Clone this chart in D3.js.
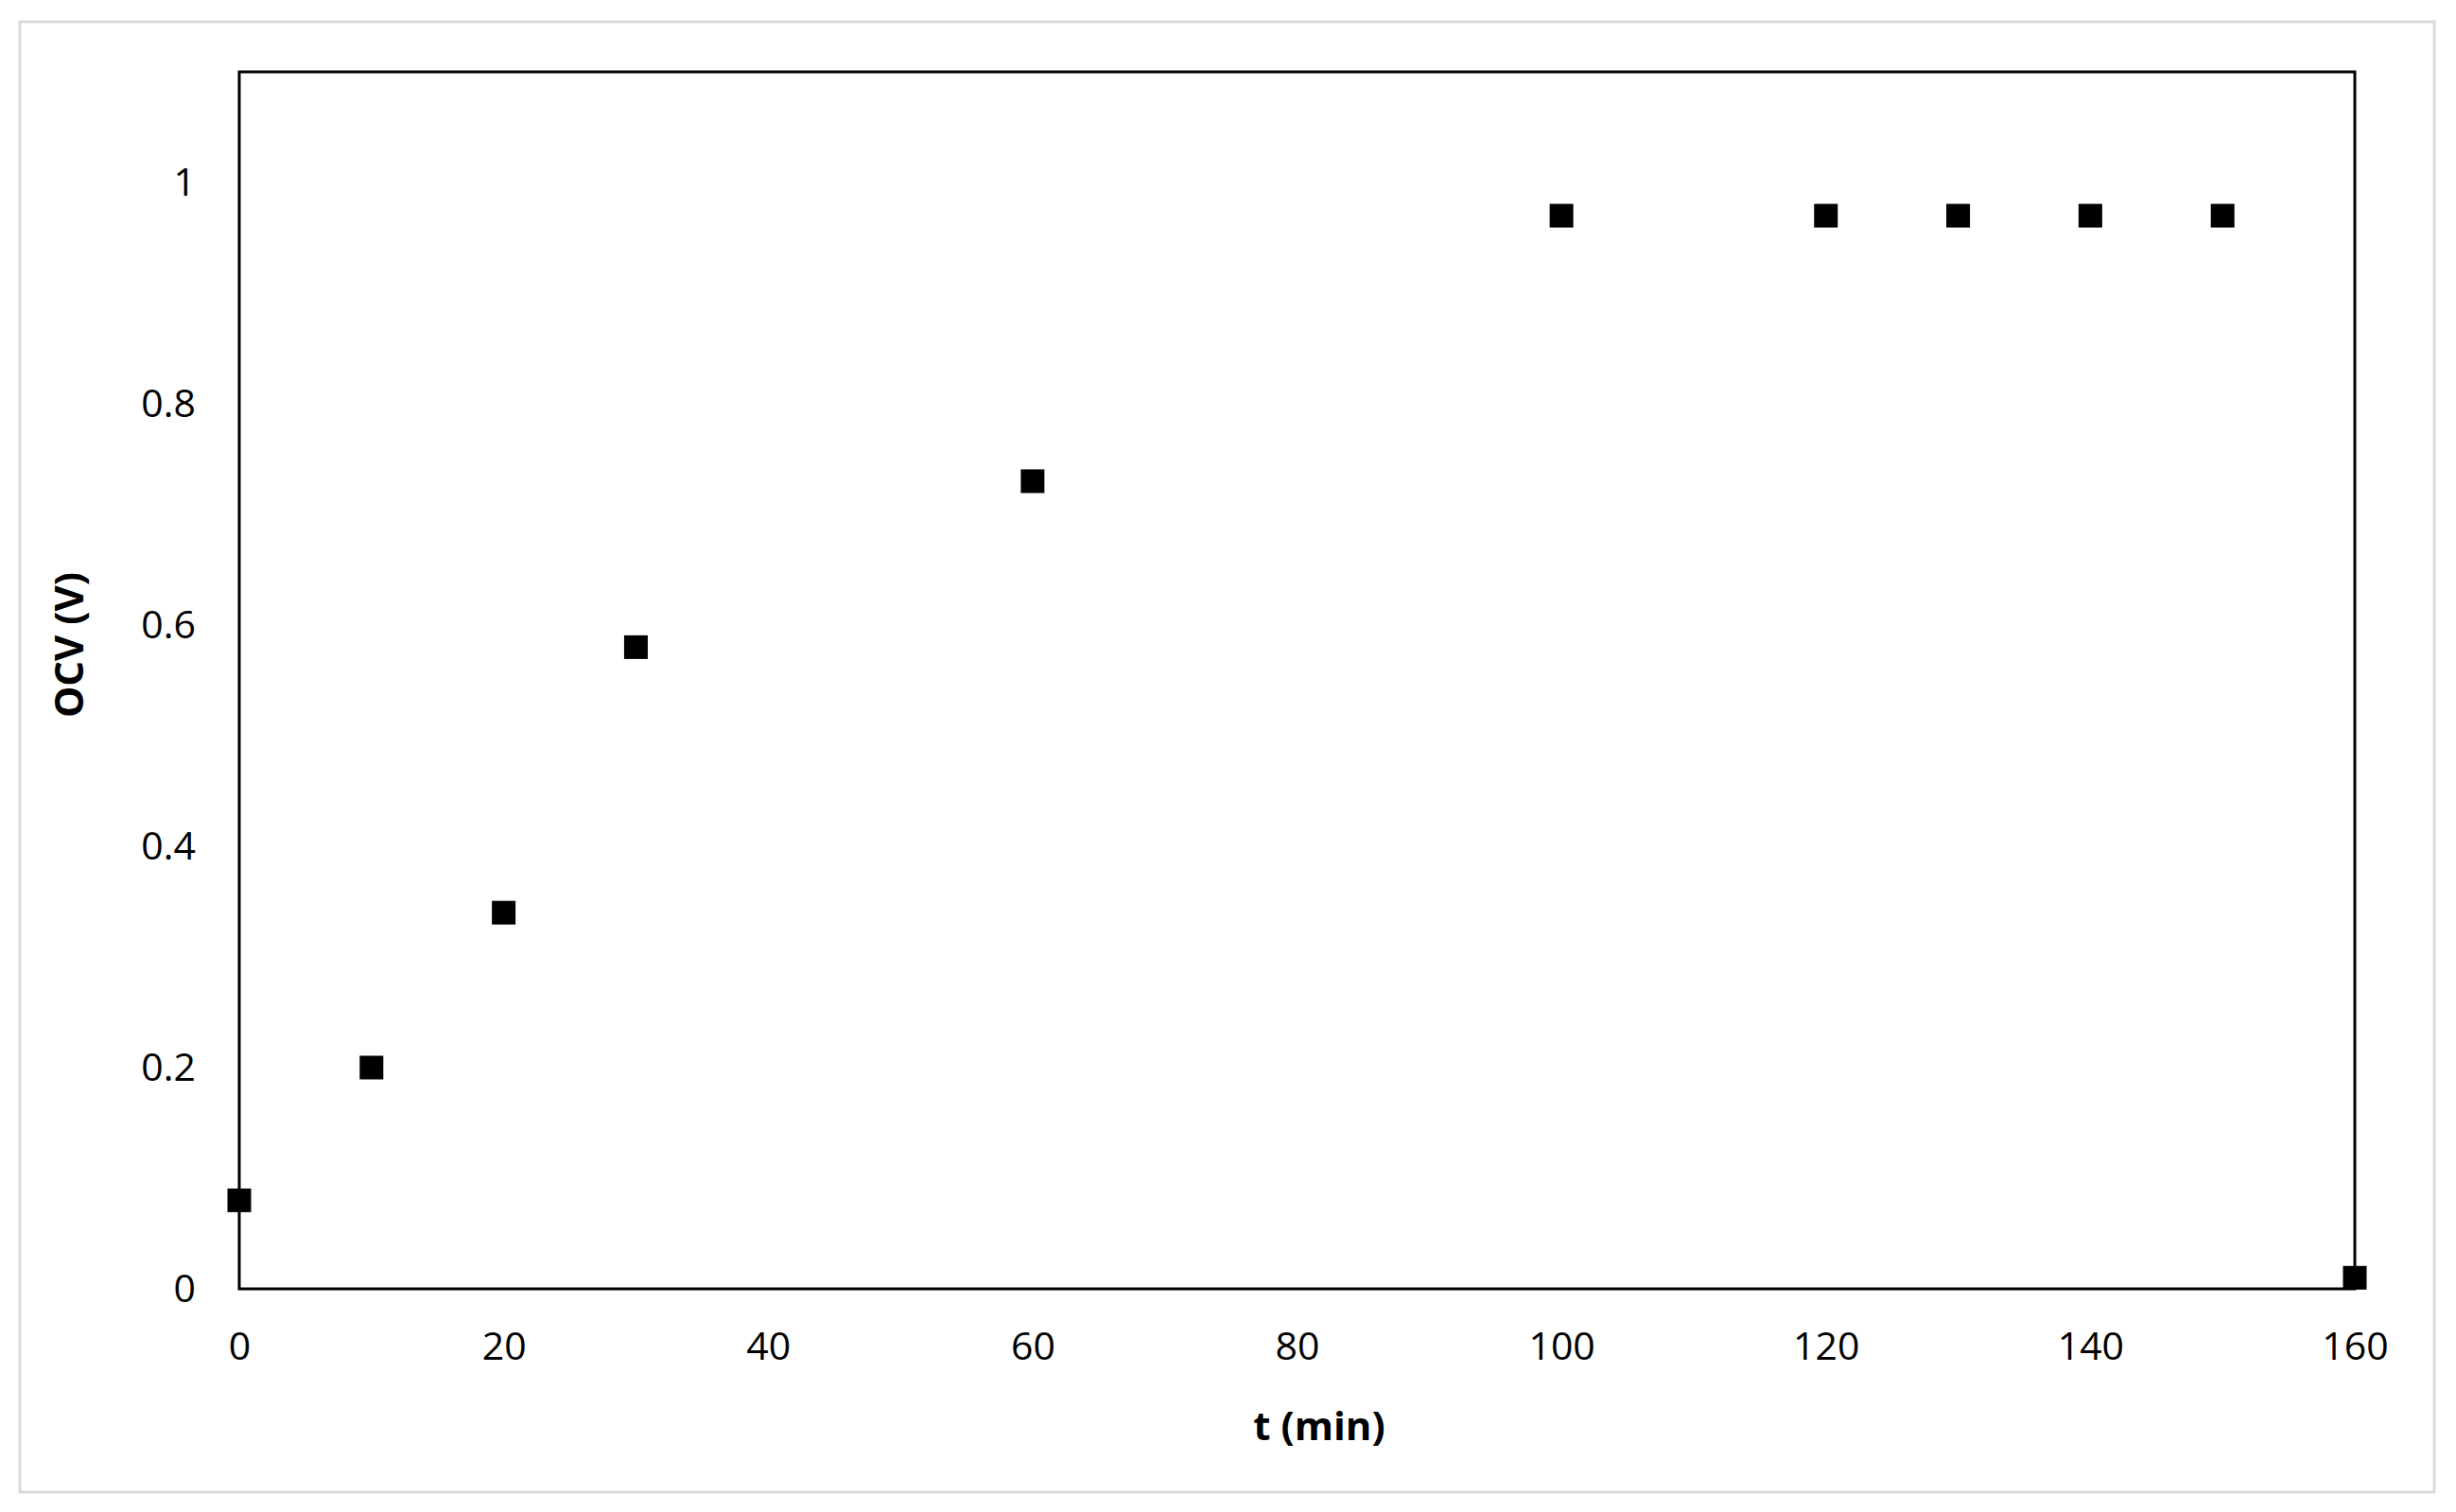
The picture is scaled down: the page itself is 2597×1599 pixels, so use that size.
<!DOCTYPE html>
<html>
<head>
<meta charset="utf-8">
<script src="https://cdn.jsdelivr.net/npm/d3@7"></script>
<style>
  html, body { margin: 0; padding: 0; background: #ffffff; }
  svg { display: block; }
</style>
</head>
<body>
<svg id="chart" width="2597" height="1599"></svg>
<script>
const times = [0, 10, 20, 30, 60, 100, 120, 130, 140, 150, 160];
const ocv = [0.08, 0.20, 0.34, 0.58, 0.73, 0.97, 0.97, 0.97, 0.97, 0.97, 0.01];
const xTicks = [0, 20, 40, 60, 80, 100, 120, 140, 160];
const yTicks = [0, 0.2, 0.4, 0.6, 0.8, 1];
const xLabel = "t (min)";
const yLabel = "OCV (V)";

const svg = d3.select("#chart");
const W = 2597, H = 1599;
const plot = { left: 253, right: 2490, top: 76, bottom: 1363 };

svg.append("rect").attr("x", 0).attr("y", 0).attr("width", W).attr("height", H).attr("fill", "#fff");
svg.append("rect").attr("x", 21).attr("y", 23).attr("width", 2553).attr("height", 1555)
  .attr("fill", "none").attr("stroke", "#d9d9d9").attr("stroke-width", 3);

const x = d3.scaleLinear().domain([0, 160]).range([plot.left, plot.right]);
const y = d3.scaleLinear().domain([0, 1.1]).range([plot.bottom, plot.top]);

const font = "'Open Sans', 'DejaVu Sans', sans-serif";

// x axis
const xAxis = d3.axisBottom(x).tickValues(xTicks).tickSize(0).tickPadding(46).tickFormat(d3.format("d"));
const gx = svg.append("g").attr("transform", `translate(0,${plot.bottom})`).call(xAxis);
gx.select(".domain").remove();
gx.selectAll("text").attr("font-family", font).attr("font-size", 41).attr("fill", "#000");

// y axis
const yAxis = d3.axisLeft(y).tickValues(yTicks).tickSize(0).tickPadding(46).tickFormat(d => d === 0 || d === 1 ? d3.format("d")(d) : d3.format(".1f")(d));
const gy = svg.append("g").attr("transform", `translate(${plot.left},0)`).call(yAxis);
gy.select(".domain").remove();
gy.selectAll("text").attr("font-family", font).attr("font-size", 41).attr("fill", "#000");

// plot frame
svg.append("rect")
  .attr("x", plot.left).attr("y", plot.top)
  .attr("width", plot.right - plot.left).attr("height", plot.bottom - plot.top)
  .attr("fill", "none").attr("stroke", "#000").attr("stroke-width", 3);

// points
const s = 25;
svg.append("g").selectAll("rect")
  .data(times.map((t, i) => ({ t, v: ocv[i] })))
  .join("rect")
  .attr("x", d => x(d.t) - s / 2)
  .attr("y", d => y(d.v) - s / 2)
  .attr("width", s).attr("height", s)
  .attr("fill", "#000");

// axis titles
svg.append("text")
  .attr("x", 1395).attr("y", 1523)
  .attr("text-anchor", "middle")
  .attr("font-family", font).attr("font-weight", "bold").attr("font-size", 42)
  .attr("fill", "#000")
  .text(xLabel);

svg.append("text")
  .attr("transform", "translate(88,682) rotate(-90)")
  .attr("text-anchor", "middle")
  .attr("font-family", font).attr("font-weight", "bold").attr("font-size", 42)
  .attr("fill", "#000")
  .text(yLabel);
</script>
</body>
</html>
